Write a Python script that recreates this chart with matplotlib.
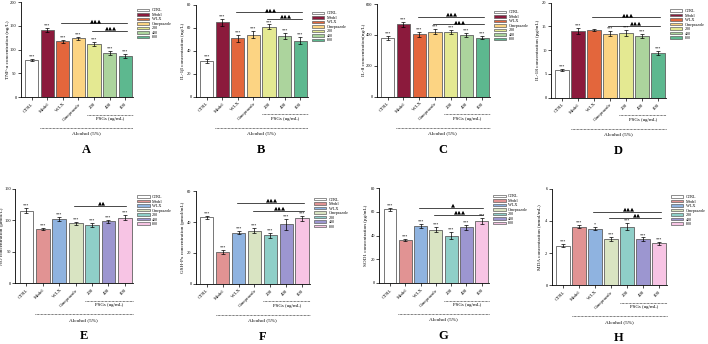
import numpy as np
import matplotlib
matplotlib.use('Agg')
import matplotlib.pyplot as plt
from matplotlib.patches import Patch

plt.rcParams['font.family'] = ['Liberation Serif', 'DejaVu Sans']

groups = ['CTRL', 'Model', 'WLX', 'Omeprazole', '200', '400', '800']

# panel values (mean, error)
tnf = [78, 141, 117, 124, 111, 93, 87]
tnf_err = [3, 4, 3, 3, 4, 4, 4]
il1b = [31, 65, 51, 54, 61, 53, 49]
il1b_err = [2, 3, 3, 3, 2, 3, 3]
il8 = [380, 470, 403, 420, 420, 400, 383]
il8_err = [12, 16, 15, 16, 14, 12, 8]
il18 = [5.8, 14.1, 14.3, 13.5, 13.6, 13.0, 9.4]
il18_err = [0.25, 0.6, 0.2, 0.6, 0.6, 0.5, 0.35]
no = [115, 86, 102, 95, 92, 98, 104]
no_err = [4, 2, 3, 2, 3, 3, 4]
gsh = [43, 20.5, 33, 34.5, 31.5, 38.5, 42.5]
gsh_err = [1, 1.2, 1, 1.5, 1.5, 3.5, 1.5]
sod = [62, 36, 48, 45, 40, 47, 52]
sod_err = [1.5, 1, 1.5, 2, 3, 2, 2.5]
mda = [2.45, 3.65, 3.52, 2.9, 3.65, 2.85, 2.6]
mda_err = [0.1, 0.1, 0.1, 0.12, 0.2, 0.12, 0.08]

stars = {
    'A': ['***'] * 7, 'B': ['***'] * 7, 'C': ['***'] * 7,
    'D': ['***', '***', '', '***', '***', '***', '***'],
    'E': ['***'] * 7, 'F': ['***'] * 7, 'G': ['***'] * 7,
    'H': ['***', '***', '*', '***', '***', '***', '***'],
}

top_colors = ['#ffffff', '#8b1a3c', '#e3663c', '#fcd483', '#e4e992', '#acd49d', '#5db88f']
bot_colors = ['#ffffff', '#e19393', '#8fb3e0', '#d9e4c2', '#8fcfc8', '#9c96d0', '#f7c4e4']

# (key, values, errors, ylabel, ymax, ticks, colors, brackets[(start, y, mark)], box px l,r,t,b)
panels = [
    ('A', tnf, tnf_err, 'TNF-α concentration (ng/L)', 200, [0, 50, 100, 150, 200], top_colors,
     [(2, 155, '▲▲▲'), (4, 140, '▲▲▲')], (20.7, 133, 2, 97)),
    ('B', il1b, il1b_err, 'IL-1β concentration (ng/L)', 80, [0, 20, 40, 60, 80], top_colors,
     [(2, 73.5, '▲▲▲'), (4, 67.5, '▲▲▲')], (195.7, 308, 5, 96.7)),
    ('C', il8, il8_err, 'IL-8 concentration(ng/L)', 600, [0, 200, 400, 600], top_colors,
     [(2, 518, '▲▲▲'), (3, 468, '▲▲▲')], (376.7, 490, 4, 96.7)),
    ('D', il18, il18_err, 'IL-18 concentration (pg/mL)', 20, [0, 5, 10, 15, 20], top_colors,
     [(2, 16.9, '▲▲▲'), (3, 15.1, '▲▲▲')], (550.7, 666, 2.7, 97.7)),
    ('E', no, no_err, 'NO concentration (μmol/L)', 150, [0, 50, 100, 150], bot_colors,
     [(3, 122, '▲▲')], (15, 133, 188.7, 283.3)),
    ('F', gsh, gsh_err, 'GSH-Px concentration (pmol/mL)', 60, [0, 20, 40, 60], bot_colors,
     [(2, 52.6, '▲▲▲'), (3, 47.2, '▲▲▲')], (195.7, 310, 191.3, 283.7)),
    ('G', sod, sod_err, 'SOD1 concentration (pg/mL)', 80, [0, 20, 40, 60, 80], bot_colors,
     [(2, 63.4, '▲'), (3, 57.3, '▲▲▲')], (379.3, 489.3, 188, 283)),
    ('H', mda, mda_err, 'MDA concentration (nmol/mL)', 6, [0, 2, 4, 6], bot_colors,
     [(2, 4.55, '▲▲▲'), (3, 4.18, '▲▲')], (551.7, 667, 188.7, 285.3)),
]

W, H = 708, 344
fig = plt.figure(figsize=(W / 100, H / 100), dpi=100)

for key, vals, errs, ylabel, ymax, ticks, colors, brackets, box in panels:
    l, r, t, b = box
    ax = fig.add_axes([l / W, 1 - b / H, (r - l) / W, (b - t) / H])
    hpx = b - t
    wpx = r - l
    x = np.arange(len(groups))
    ax.bar(x, vals, width=0.84, color=colors, edgecolor='#606060', linewidth=0.6, zorder=2)
    ax.errorbar(x, vals, yerr=errs, fmt='none', ecolor='black', elinewidth=0.5,
                capsize=1.5, capthick=0.5, zorder=3)
    for xi, v, e, s in zip(x, vals, errs, stars[key]):
        ax.text(xi, v + e + ymax * 0.005, s, ha='center', va='bottom', fontsize=3, zorder=4)
    for start, yv, mark in brackets:
        ax.plot([start - 0.1, 6.1], [yv, yv], color='black', lw=0.5)
        ax.text((start + 6) / 2 + 0.1, yv + ymax * 0.005, mark, ha='center', va='bottom',
                fontsize=3.8, family='DejaVu Sans')
    ax.set_xlim(-0.7, 6.5)
    ax.set_ylim(0, ymax)
    ax.set_yticks(ticks)
    ax.set_xticks(x)
    ax.set_xticklabels(groups, rotation=45, ha='right', rotation_mode='anchor', fontsize=3.5)
    ax.tick_params(axis='y', labelsize=3.2, length=2, width=0.5, pad=1)
    ax.tick_params(axis='x', length=2, width=0.5, pad=1.5)
    ax.set_ylabel(ylabel, fontsize=3.7)
    ax.yaxis.set_label_coords(-11 / wpx, 0.5)
    for sp in ['top', 'right']:
        ax.spines[sp].set_visible(False)
    for sp in ['left', 'bottom']:
        ax.spines[sp].set_linewidth(0.6)

    # group annotations below the axis
    tr = ax.get_xaxis_transform()
    ax.plot([3.55, 6.5], [-17.5 / hpx] * 2, transform=tr, clip_on=False,
            color='black', lw=0.5, ls=(0, (1, 1)))
    ax.text(5.05, -22 / hpx, 'PSGs (ug/mL)', transform=tr, ha='center', va='center', fontsize=3.5)
    ax.plot([0.55, 6.5], [-31 / hpx] * 2, transform=tr, clip_on=False,
            color='black', lw=0.5, ls=(0, (1, 1)))
    ax.text(3.5, -36.5 / hpx, 'Alcohol (5%)', transform=tr, ha='center', va='center', fontsize=3.8)
    ax.text(3.5, -53 / hpx, key, transform=tr, ha='center', va='center', fontsize=9,
            fontweight='bold')

    handles = [Patch(facecolor=c, edgecolor='#606060', linewidth=0.5) for c in colors]
    ax.legend(handles, groups, loc='upper left', bbox_to_anchor=(1.02, 0.95), frameon=False,
              fontsize=3.0, handlelength=3.0, handleheight=0.55, labelspacing=0.12,
              borderaxespad=0, handletextpad=0.6)

fig.savefig('out.png', dpi=100)
